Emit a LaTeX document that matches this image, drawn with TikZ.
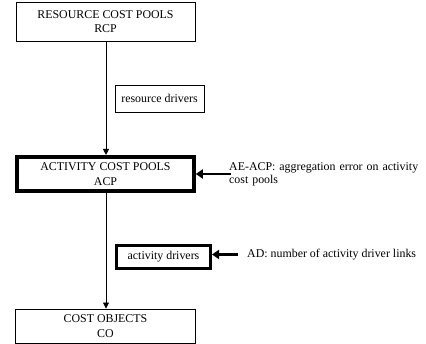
\documentclass[tikz,border=0pt]{standalone}
\usepackage{fontspec}
\setmainfont{Liberation Serif}
\usetikzlibrary{arrows.meta}
\begin{document}
\begin{tikzpicture}[x=1pt,y=-1pt,
  box/.style={draw,line width=0.9pt,align=center,inner sep=0pt,font=\fontsize{11.9}{14.5}\selectfont},
  thickbox/.style={box,line width=3.6pt},
  lbl/.style={align=left,anchor=west,inner sep=0pt,font=\fontsize{11.9}{13}\selectfont},
  flow/.style={line width=0.9pt,-{Triangle[length=6pt,width=6pt]}},
  bigarrow/.style={line width=2.6pt,-{Triangle[length=7pt,width=9pt]}}]
\useasboundingbox (0,0) rectangle (426,344);
\node[box,minimum width=179pt,minimum height=39pt] (rcp) at (105.5,21.5) {RESOURCE COST POOLS\\RCP};
\node[box,minimum width=89pt,minimum height=27pt] (rd) at (159.5,98.5) {resource drivers};
\node[thickbox,minimum width=177pt,minimum height=34.5pt] (acp) at (105.5,174) {ACTIVITY COST POOLS\\ACP};
\node[thickbox,line width=3pt,minimum width=94pt,minimum height=23pt] (ad) at (163.5,257) {activity drivers};
\node[box,minimum width=180pt,minimum height=34pt] (co) at (105.5,326) {COST OBJECTS\\CO};
\node[lbl,text width=190pt] (aelbl) at (229,174) {AE-ACP: aggregation error on activity\\cost pools};
\node[lbl] (adlbl) at (247,254.5) {AD: number of activity driver links};
\coordinate (aestart) at (231,174);
\coordinate (adstart) at (238,254.5);
\draw[flow] (rcp.south -| 106,0) -- (acp.north -| 106,0);
\draw[flow] (acp.south -| 106,0) -- (co.north -| 106,0);
\draw[bigarrow] (aestart) -- (acp.east |- aestart);
\draw[bigarrow] (adstart) -- (ad.east |- adstart);
\end{tikzpicture}
\end{document}
